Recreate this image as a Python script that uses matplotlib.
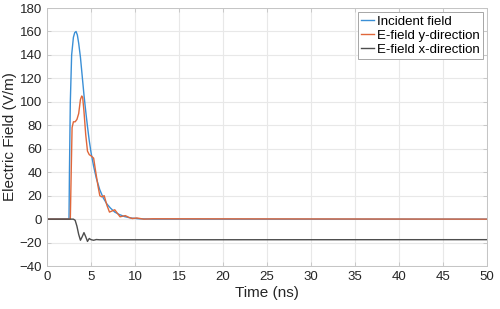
import numpy as np
import matplotlib.pyplot as plt

plt.rcParams['font.family'] = ['Liberation Sans', 'DejaVu Sans']

# Incident field
t_inc = [0, 2.5, 2.55, 2.65, 2.8, 3.0, 3.15, 3.3, 3.45, 3.6, 3.8, 4.0, 4.2, 4.4, 4.6, 4.8, 5.0,
         5.3, 5.6, 6.0, 6.4, 6.8, 7.2, 7.7, 8.2, 8.8, 9.5, 10.5, 12, 50]
e_inc = [0, 0, 40, 100, 140, 155, 159, 160, 157, 150, 138, 122, 106, 92, 79, 67, 57,
         45, 35, 25, 18, 13, 9.5, 6, 4, 2.2, 1, 0.3, 0, 0]

# E-field y-direction
t_y = [0, 2.65, 2.75, 2.85, 3.0, 3.2, 3.4, 3.6, 3.8, 3.95, 4.05, 4.2, 4.4, 4.6, 4.8, 5.0,
       5.3, 5.5, 5.8, 6.0, 6.2, 6.5, 6.8, 7.1, 7.4, 7.7, 8.0, 8.3, 8.6, 8.9, 9.3, 9.7,
       10.2, 11, 12, 50]
e_y = [0, 0, 40, 78, 83, 83, 85, 90, 102, 105, 104, 92, 72, 58, 55, 54,
       52, 42, 28, 20, 19, 20, 12, 6, 7, 8, 5, 2, 2.5, 3, 1.5, 0.5,
       1, 0, 0.3, 0]

# E-field x-direction
t_x = [0, 3.0, 3.2, 3.4, 3.6, 3.8, 4.0, 4.2, 4.4, 4.6, 4.8, 5.0, 5.3, 5.6, 6, 50]
e_x = [0, 0, -1, -6, -13, -18, -15, -11.5, -15, -19, -16.5, -17.5, -18, -17.4, -17.6, -17.5]

fig = plt.figure(figsize=(5, 3.09), dpi=100)
ax = fig.add_axes([0.094, 0.139, 0.88, 0.835])

ax.plot(t_inc, e_inc, color='#3a8fd6', lw=1.0, label='Incident field')
ax.plot(t_y, e_y, color='#e0673a', lw=1.0, label='E-field y-direction')
ax.plot(t_x, e_x, color='#4d4d4d', lw=1.0, label='E-field x-direction')

ax.set_xlim(0, 50)
ax.set_ylim(-40, 180)
ax.set_xticks(np.arange(0, 51, 5))
ax.set_yticks(np.arange(-40, 181, 20))
ax.grid(True, color='#e8e8e8', lw=0.8)
ax.set_axisbelow(True)
for s in ax.spines.values():
    s.set_color('#c4c4c4')
    s.set_linewidth(0.7)
ax.tick_params(direction='in', length=3, width=0.6, color='#c4c4c4',
               labelsize=9.5, labelcolor='#262626', top=True, right=True,
               labeltop=False, labelright=False)
ax.set_xlabel('Time (ns)', fontsize=11, color='#262626', labelpad=2)
ax.set_ylabel('Electric Field (V/m)', fontsize=11, color='#262626', labelpad=2)

leg = ax.legend(loc='upper right', fontsize=9.5, handlelength=1.0, handletextpad=0.2,
                borderpad=0.25, labelspacing=0.15, fancybox=False, framealpha=1,
                edgecolor='#a6a6a6', borderaxespad=0.3)
leg.get_frame().set_linewidth(0.7)

fig.savefig('out.png', dpi=100)
